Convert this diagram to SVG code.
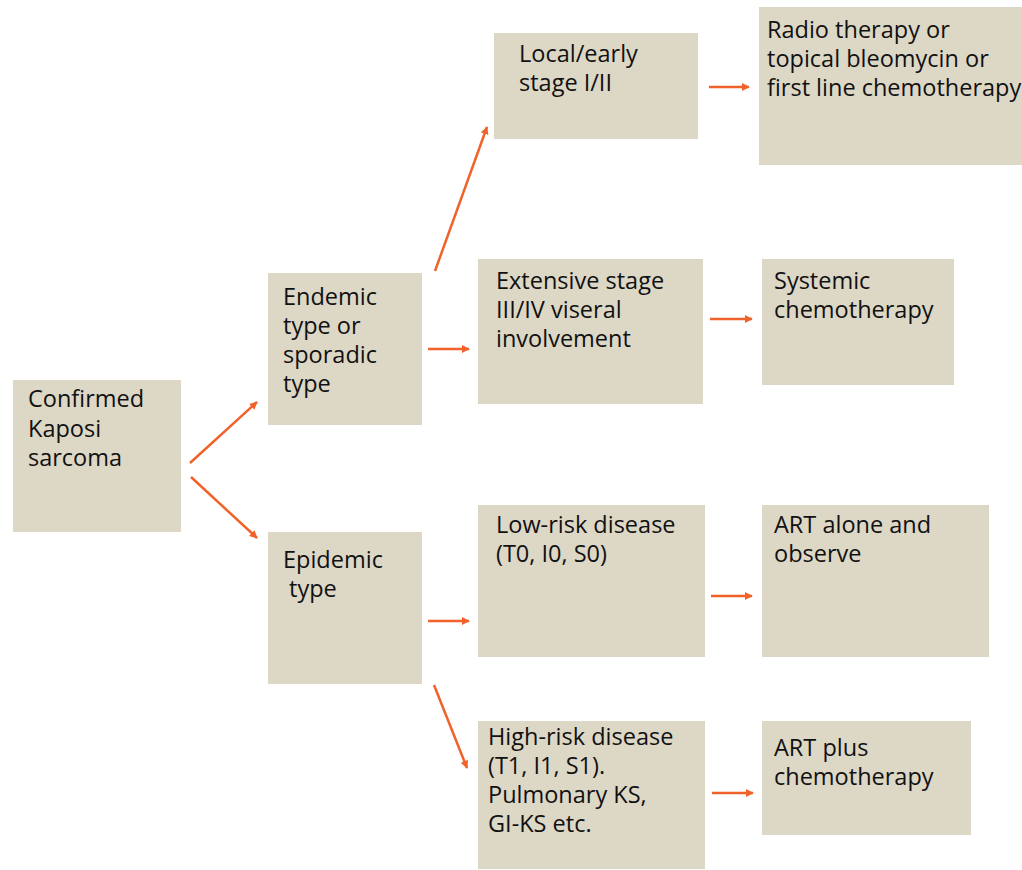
<svg xmlns="http://www.w3.org/2000/svg" width="1022" height="870" viewBox="0 0 1022 870">
  <defs>
    <style>
      .box { fill: #ddd7c6; }
      .lbl { font-family: "Open Sans", "Liberation Sans", sans-serif; font-size: 23.5px; fill: #111; }
      .edge { stroke: #f0622a; stroke-width: 2.5; fill: none; marker-end: url(#ah); }
    </style>
    <marker id="ah" viewBox="0 0 10 10" refX="9" refY="5" markerWidth="3.2" markerHeight="3.2" orient="auto" markerUnits="strokeWidth">
      <path d="M0,0 L10,5 L0,10 z" fill="#f0622a"/>
    </marker>
  </defs>
  <rect width="1022" height="870" fill="#ffffff"/>

  <g id="connectors">
    <line class="edge" x1="190" y1="463" x2="257" y2="402"/>
    <line class="edge" x1="191" y1="477" x2="257" y2="538"/>
    <line class="edge" x1="435" y1="271" x2="487" y2="127"/>
    <line class="edge" x1="428" y1="349" x2="469" y2="349"/>
    <line class="edge" x1="428" y1="621" x2="469" y2="621"/>
    <line class="edge" x1="434" y1="685" x2="467" y2="768"/>
    <line class="edge" x1="709" y1="87" x2="749" y2="87"/>
    <line class="edge" x1="710" y1="319" x2="752" y2="319"/>
    <line class="edge" x1="711" y1="596" x2="752" y2="596"/>
    <line class="edge" x1="712" y1="793" x2="753" y2="793"/>
  </g>

  <g id="confirmed">
    <rect class="box" x="13" y="380" width="168" height="152"/>
    <text class="lbl"><tspan x="28" y="407">Confirmed</tspan><tspan x="28" y="437">Kaposi</tspan><tspan x="28" y="466">sarcoma</tspan></text>
  </g>
  <g id="endemic">
    <rect class="box" x="268" y="273" width="154" height="152"/>
    <text class="lbl"><tspan x="283" y="305">Endemic</tspan><tspan x="283" y="334">type or</tspan><tspan x="283" y="363">sporadic</tspan><tspan x="283" y="392">type</tspan></text>
  </g>
  <g id="epidemic">
    <rect class="box" x="268" y="532" width="154" height="152"/>
    <text class="lbl"><tspan x="283" y="568">Epidemic</tspan><tspan x="289" y="597">type</tspan></text>
  </g>
  <g id="local">
    <rect class="box" x="494" y="33" width="204" height="106"/>
    <text class="lbl"><tspan x="519" y="62">Local/early</tspan><tspan x="519" y="91">stage I/II</tspan></text>
  </g>
  <g id="radio">
    <rect class="box" x="759" y="7" width="263" height="158"/>
    <text class="lbl"><tspan x="767" y="38">Radio therapy or</tspan><tspan x="767" y="67">topical bleomycin or</tspan><tspan x="767" y="96">first line chemotherapy</tspan></text>
  </g>
  <g id="extensive">
    <rect class="box" x="478" y="259" width="225" height="145"/>
    <text class="lbl"><tspan x="496" y="289">Extensive stage</tspan><tspan x="496" y="318">III/IV viseral</tspan><tspan x="496" y="347">involvement</tspan></text>
  </g>
  <g id="systemic">
    <rect class="box" x="762" y="259" width="192" height="126"/>
    <text class="lbl"><tspan x="774" y="289">Systemic</tspan><tspan x="774" y="318">chemotherapy</tspan></text>
  </g>
  <g id="lowrisk">
    <rect class="box" x="478" y="505" width="227" height="152"/>
    <text class="lbl"><tspan x="496" y="533">Low-risk disease</tspan><tspan x="496" y="562">(T0, I0, S0)</tspan></text>
  </g>
  <g id="art-alone">
    <rect class="box" x="762" y="505" width="227" height="152"/>
    <text class="lbl"><tspan x="774" y="533">ART alone and</tspan><tspan x="774" y="562">observe</tspan></text>
  </g>
  <g id="highrisk">
    <rect class="box" x="478" y="721" width="227" height="148"/>
    <text class="lbl"><tspan x="488" y="745">High-risk disease</tspan><tspan x="488" y="774">(T1, I1, S1).</tspan><tspan x="488" y="803">Pulmonary KS,</tspan><tspan x="488" y="832">GI-KS etc.</tspan></text>
  </g>
  <g id="art-plus">
    <rect class="box" x="762" y="721" width="209" height="114"/>
    <text class="lbl"><tspan x="774" y="756">ART plus</tspan><tspan x="774" y="785">chemotherapy</tspan></text>
  </g>
</svg>
